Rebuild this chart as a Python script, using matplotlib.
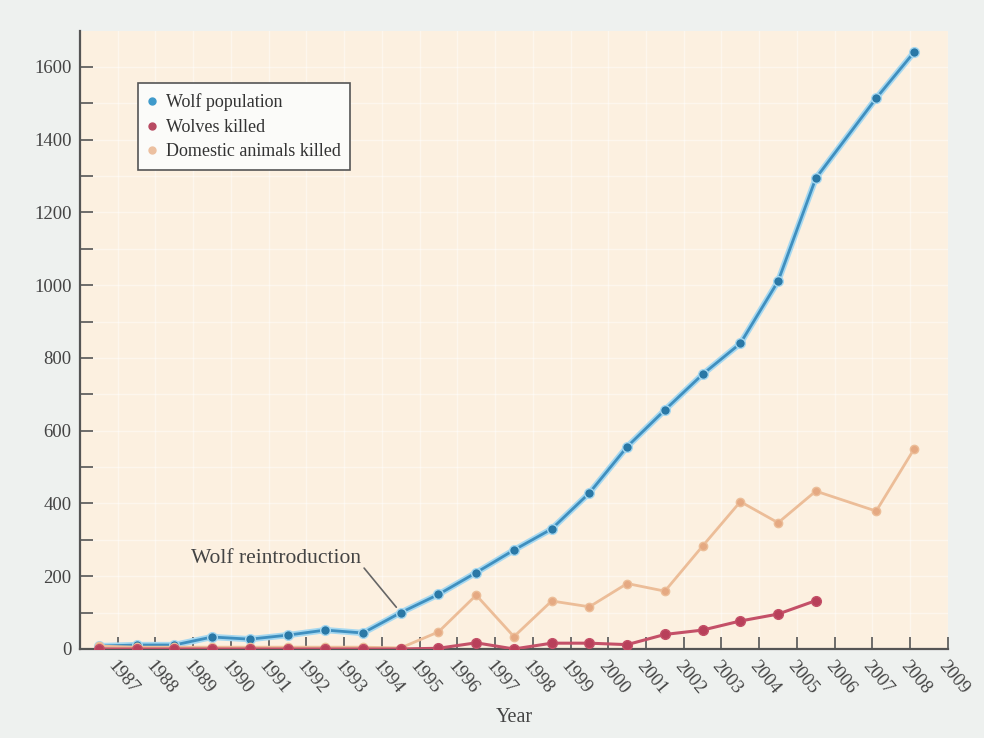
import matplotlib
matplotlib.use('Agg')
import matplotlib.pyplot as plt
from matplotlib.lines import Line2D

# Data (points sit between the year ticks)
years = list(range(1987, 2009))
# the last two points are drawn a little to the right in the original
x_pos = list(range(1987, 2007)) + [2007.6, 2008.6]

wolf_population = [8, 11, 11, 33, 27, 38, 52, 44, 100, 150, 210, 272, 330,
                   429, 556, 657, 755, 840, 1011, 1294, 1514, 1640]
wolves_killed = [0, 0, 0, 0, 0, 0, 0, 0, 0, 2, 17, 0, 16, 16, 12, 40, 52,
                 77, 96, 133]
domestic_killed = [8, 5, 5, 5, 5, 5, 5, 5, 3, 47, 148, 34, 132, 116, 180,
                   159, 283, 405, 347, 434, 379, 549]

tick_years = list(range(1987, 2010))

plt.rcParams['font.family'] = ['Liberation Serif', 'DejaVu Serif']

fig = plt.figure(figsize=(9.84, 7.38), dpi=100, facecolor='#eef1ef')
ax = fig.add_axes([0.0813, 0.1206, 0.8820, 0.8380])
ax.set_facecolor('#fcf0e0')

# faint paper grid
ax.set_axisbelow(True)
ax.grid(True, which='both', color='white', lw=1.0, alpha=0.45)

blue, blue_glow, blue_mk = '#3f8fbf', '#a6d8f0', '#2a78a6'
red, red_mk = '#c45068', '#b8405a'
orange, orange_mk = '#ecbd98', '#e5a982'

ax.plot(x_pos, wolf_population, color=blue_glow, lw=4.5, solid_capstyle='round', zorder=2)
ax.plot(x_pos, wolf_population, color=blue, lw=2, marker='o', ms=7,
        mfc=blue_mk, mec=blue_glow, mew=1, zorder=3)
ax.plot(x_pos, domestic_killed, color=orange, lw=2, marker='o', ms=6,
        mfc=orange_mk, mec=orange, zorder=3)
ax.plot(x_pos[:len(wolves_killed)], wolves_killed, color=red, lw=2.2,
        marker='o', ms=7, mfc=red_mk, mec=red, zorder=4)

ax.annotate('Wolf reintroduction', xy=(1995, 100), xytext=(1989.45, 250),
            fontsize=15.5, color='#444444', ha='left', va='center',
            arrowprops=dict(arrowstyle='-', color='#666666', lw=1.2,
                            relpos=(1.0, 0.15), shrinkA=0, shrinkB=5))

ax.set_xlim(1986.5, 2009.5)
ax.set_ylim(0, 1700)
ax.set_xticks([y + 0.5 for y in tick_years])
ax.set_xticklabels([str(y) for y in tick_years], rotation=-50, ha='left',
                   va='top', rotation_mode='anchor')
ax.set_yticks(range(0, 1601, 200))
ax.set_yticks(range(100, 1700, 200), minor=True)
ax.tick_params(axis='both', which='both', direction='in', length=9,
               width=1.2, color='#555555', labelcolor='#444444', labelsize=13.5)
ax.tick_params(axis='x', pad=6)
ax.tick_params(axis='y', pad=6)

for side in ['top', 'right']:
    ax.spines[side].set_visible(False)
for side in ['left', 'bottom']:
    ax.spines[side].set_color('#555555')
    ax.spines[side].set_linewidth(1.6)

ax.set_xlabel('Year', fontsize=14.5, color='#444444', labelpad=8)

handles = [
    Line2D([], [], ls='none', marker='o', ms=5, color='#3f9acb'),
    Line2D([], [], ls='none', marker='o', ms=5, color='#b84a62'),
    Line2D([], [], ls='none', marker='o', ms=5, color='#ecc0a0'),
]
leg = ax.legend(handles, ['Wolf population', 'Wolves killed',
                          'Domestic animals killed'],
                loc='upper left', bbox_to_anchor=(0.056, 0.929),
                fontsize=13, frameon=True, fancybox=False,
                handlelength=0.5, handletextpad=0.5, borderpad=0.55,
                labelspacing=0.42, labelcolor='#333333')
leg.get_frame().set_edgecolor('#555555')
leg.get_frame().set_linewidth(1.2)
leg.get_frame().set_facecolor('#fbfbf9')
leg.get_frame().set_alpha(1)

fig.savefig('out.png', dpi=100, facecolor=fig.get_facecolor())
